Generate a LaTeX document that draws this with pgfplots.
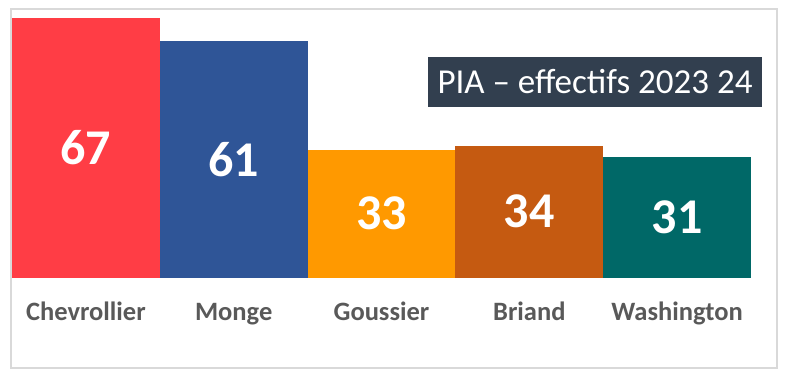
\documentclass[border=0pt]{standalone}
\usepackage{fontspec}
\setmainfont{Carlito}
\usepackage{pgfplots}
\pgfplotsset{compat=1.18}
\definecolor{cRed}{HTML}{FF3D45}
\definecolor{cBlue}{HTML}{2F5597}
\definecolor{cOrange}{HTML}{FF9900}
\definecolor{cBrown}{HTML}{C55A11}
\definecolor{cTeal}{HTML}{006867}
\definecolor{lineGray}{HTML}{D9D9D9}
\definecolor{labelGray}{HTML}{595959}
\definecolor{titleBg}{HTML}{323F4F}
\begin{document}
\begin{tikzpicture}[x=1bp,y=1bp]
\path (0,0) rectangle (787,-378);
\draw[color=lineGray, line width=1.5bp] (11,-9) rectangle (777,-368);
\begin{axis}[
  at={(12bp,-277.5bp)}, anchor=south west,
  scale only axis, width=739bp, height=267.2bp,
  xmin=-0.5, xmax=4.5, ymin=0, ymax=69,
  ybar, bar width=1, bar shift=0pt,
  axis y line=none, axis x line*=bottom,
  x axis line style={draw=lineGray, line width=1.2bp, -},
  xtick={0,1,2,3,4},
  xticklabels={Chevrollier,Monge,Goussier,Briand,Washington},
  major tick length=0pt,
  xticklabel style={font=\fontsize{26.5bp}{30bp}\selectfont\bfseries, text=labelGray, anchor=base, yshift=-42.5bp},
  clip=false,
  /pgf/number format/assume math mode=true,
  nodes near coords,
  visualization depends on={y \as \rawy},
  every node near coord/.append style={anchor=center, text=white, font=\fontsize{50bp}{54bp}\selectfont\bfseries, yshift={-\rawy*1.93623bp}},
]
\addplot[fill=cRed, draw=none] coordinates {(0,67)};
\addplot[fill=cBlue, draw=none] coordinates {(1,61)};
\addplot[fill=cOrange, draw=none] coordinates {(2,33)};
\addplot[fill=cBrown, draw=none] coordinates {(3,34)};
\addplot[fill=cTeal, draw=none] coordinates {(4,31)};
\end{axis}
\node[fill=titleBg, text=white, minimum width=334bp, minimum height=50bp, inner sep=0pt, font=\fontsize{35bp}{40bp}\selectfont] at (595,-82) {PIA – effectifs 2023 24};
\end{tikzpicture}
\end{document}
